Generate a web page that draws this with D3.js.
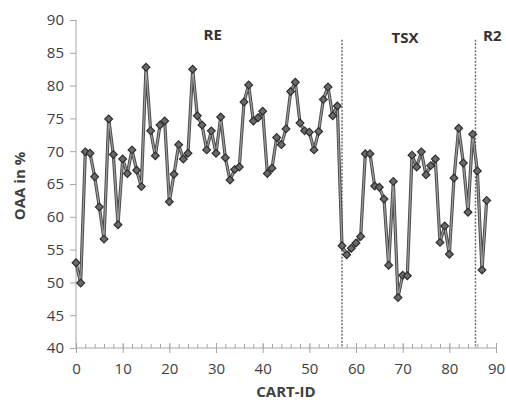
<!DOCTYPE html>
<html><head><meta charset="utf-8">
<script src="https://cdn.jsdelivr.net/npm/d3@7"></script>
<style>body{margin:0;background:#fff}svg{display:block}</style>
</head><body>
<svg id="c" width="506" height="402"></svg>
<script>
const cartIds = d3.range(0, 89);
const oaa = [53.0,49.9,69.9,69.7,66.1,61.5,56.6,74.9,69.5,58.8,
68.8,66.6,70.2,67.1,64.6,82.8,73.1,69.3,74.0,74.6,
62.3,66.5,71.0,68.8,69.7,82.5,75.4,74.0,70.2,73.1,
69.7,75.2,69.0,65.6,67.2,67.6,77.5,80.1,74.6,75.1,
76.1,66.6,67.4,72.1,71.0,73.4,79.1,80.5,74.3,73.1,
72.9,70.2,73.0,77.9,79.8,75.4,76.9,55.6,54.2,55.2,
56.0,57.0,69.6,69.6,64.7,64.5,62.7,52.6,65.4,47.7,
51.1,51.0,69.4,67.6,69.9,66.4,67.8,68.8,56.1,58.6,
54.3,65.9,73.5,68.2,60.7,72.6,67.0,51.9,62.5];
const xTicks = [0,10,20,30,40,50,60,70,80,90];
const xMinor = d3.range(0, 91, 2);
const yTicks = [40,45,50,55,60,65,70,75,80,85,90];
const sections = ["RE","TSX","R2"];
const sectionX = [29.3, 70.5, 89.2];
const dividers = [57, 85.6];
const dividerTop = 87;

const svg = d3.select("#c");
const x = d3.scaleLinear().domain([0,90]).range([76,496]);
const y = d3.scaleLinear().domain([40,90]).range([348,20]);
const axisCol = "#a6a6a6", txt = "#404040";
const font = "'Open Sans', sans-serif";

// y axis
const yAx = svg.append("g").attr("transform","translate(76,0)")
  .call(d3.axisLeft(y).tickValues(yTicks).tickSize(6).tickPadding(6));
yAx.select(".domain").attr("stroke",axisCol).attr("d","M0,20V348");
yAx.selectAll(".tick line").attr("stroke",axisCol);
yAx.selectAll("text").attr("fill",txt).style("font-family",font).style("font-size","15px");

// x axis minor ticks (inside)
svg.append("g").attr("transform","translate(0,348)")
  .call(d3.axisBottom(x).tickValues(xMinor).tickSize(-4).tickFormat(""))
  .call(g=>{g.select(".domain").remove();g.selectAll("line").attr("stroke",axisCol);});
// x axis major
const xAx = svg.append("g").attr("transform","translate(0,348)")
  .call(d3.axisBottom(x).tickValues(xTicks).tickSize(5).tickPadding(10));
xAx.select(".domain").attr("stroke",axisCol).attr("d","M76,0H496");
xAx.selectAll(".tick line").attr("stroke",axisCol).attr("y1",-5);
xAx.selectAll("text").attr("fill",txt).style("font-family",font).style("font-size","15px");

// axis titles
svg.append("text").attr("x",286).attr("y",397).attr("text-anchor","middle")
  .attr("fill",txt).style("font-family",font).style("font-size","15px").style("font-weight","bold").text("CART-ID");
svg.append("text").attr("transform","translate(25,186) rotate(-90)").attr("text-anchor","middle")
  .attr("fill",txt).style("font-family",font).style("font-size","15px").style("font-weight","bold").text("OAA  in %");

// dividers
svg.selectAll(".div").data(dividers).enter().append("line")
  .attr("x1",d=>x(d)).attr("x2",d=>x(d)).attr("y1",y(dividerTop)).attr("y2",y(40))
  .attr("stroke","#6e6e6e").attr("stroke-width",1.5).attr("stroke-dasharray","2,1.5");

// section labels
svg.selectAll(".sec").data(sections).enter().append("text")
  .attr("x",(d,i)=>x(sectionX[i])).attr("y",(d,i)=> i===0?40:(i===1?43:41))
  .attr("text-anchor","middle").attr("fill","#333").style("font-family",font)
  .style("font-size","15px").style("font-weight","bold").text(d=>d);

// line
const pts = cartIds.map((c,i)=>[c,oaa[i]]);
const line = d3.line().x(d=>x(d[0])).y(d=>y(d[1]));
svg.append("path").datum(pts).attr("d",line).attr("fill","none")
  .attr("stroke","#4a4a4a").attr("stroke-width",3.2).attr("stroke-linejoin","round");
svg.append("path").datum(pts).attr("d",line).attr("fill","none")
  .attr("stroke","#9a9a9a").attr("stroke-width",1.3).attr("stroke-linejoin","round");

// markers
const sym = d3.symbol().type(d3.symbolSquare).size(30);
svg.selectAll(".m").data(pts).enter().append("path")
  .attr("d",sym).attr("transform",d=>`translate(${x(d[0])},${y(d[1])}) rotate(45)`)
  .attr("fill","#6a6a6a").attr("stroke","#2e2e2e").attr("stroke-width",1.2);
</script>
</body></html>
